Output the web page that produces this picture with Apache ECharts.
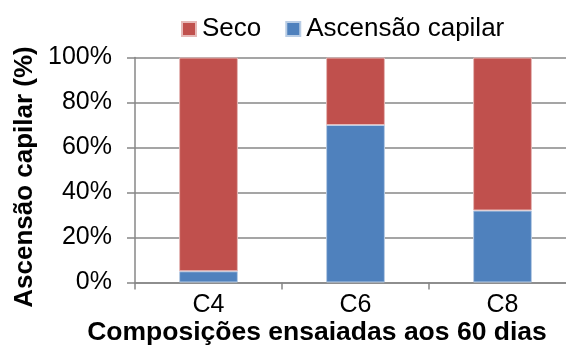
<!DOCTYPE html>
<html>
<head>
<meta charset="utf-8">
<script src="https://cdn.jsdelivr.net/npm/echarts@6/dist/echarts.min.js"></script>
<style>
  html, body { margin: 0; padding: 0; background: #fff; }
  #chart { width: 566px; height: 352px; }
</style>
</head>
<body>
<div id="chart"></div>
<script>
const categories = ["C4", "C6", "C8"];
const ascensao = [5, 70, 32];
const seco = [95, 30, 68];
const yTicks = [0, 20, 40, 60, 80, 100];

const FONT = "'Liberation Sans', Arial, sans-serif";
const GRID_COLOR = "#878787";

const chart = echarts.init(document.getElementById("chart"));
chart.setOption({
  animation: false,
  textStyle: { fontFamily: FONT },
  legend: {
    data: ["Seco", "Ascensão capilar"],
    left: 176,
    top: 11,
    icon: "rect",
    itemWidth: 14,
    itemHeight: 14,
    itemGap: 24,
    textStyle: { fontSize: 26, color: "#000", fontFamily: FONT, padding: [0, 0, 0, 1] },
  },
  grid: {
    left: 135,
    right: -10,
    top: 57.5,
    bottom: 69.5,
    outerBoundsMode: "none",
  },
  xAxis: {
    type: "category",
    data: categories,
    axisLine: { lineStyle: { color: GRID_COLOR, width: 1.5 } },
    axisTick: { show: true, length: 7, lineStyle: { color: GRID_COLOR, width: 1.5 } },
    axisLabel: { color: "#000", fontSize: 25, margin: 10, fontFamily: FONT },
  },
  yAxis: {
    type: "value",
    min: yTicks[0],
    max: yTicks[yTicks.length - 1],
    interval: yTicks[1] - yTicks[0],
    axisLine: { show: true, lineStyle: { color: GRID_COLOR, width: 1.5 } },
    axisTick: { show: true, length: 8, lineStyle: { color: GRID_COLOR, width: 1.5 } },
    axisLabel: { color: "#000", fontSize: 25, margin: 23, formatter: "{value}%", fontFamily: FONT },
    splitLine: { show: true, lineStyle: { color: GRID_COLOR, width: 1.5 } },
  },
  graphic: [
    {
      type: "text",
      x: 25,
      y: 177,
      rotation: Math.PI / 2,
      style: {
        text: "Ascensão capilar (%)",
        font: "bold 26px " + FONT,
        fill: "#000",
        align: "center",
        verticalAlign: "middle",
      },
    },
    {
      type: "text",
      x: 317,
      y: 333,
      style: {
        text: "Composições ensaiadas aos 60 dias",
        font: "bold 26.5px " + FONT,
        fill: "#000",
        align: "center",
        verticalAlign: "middle",
      },
    },
  ],
  series: [
    {
      name: "Ascensão capilar",
      type: "bar",
      stack: "total",
      data: ascensao,
      barWidth: "40%",
      itemStyle: { color: "#4F81BD", borderColor: "#B9CDE5", borderWidth: 1 },
    },
    {
      name: "Seco",
      type: "bar",
      stack: "total",
      data: seco,
      barWidth: "40%",
      itemStyle: { color: "#C0504D", borderColor: "#E6B9B8", borderWidth: 1 },
    },
  ],
});
</script>
</body>
</html>
